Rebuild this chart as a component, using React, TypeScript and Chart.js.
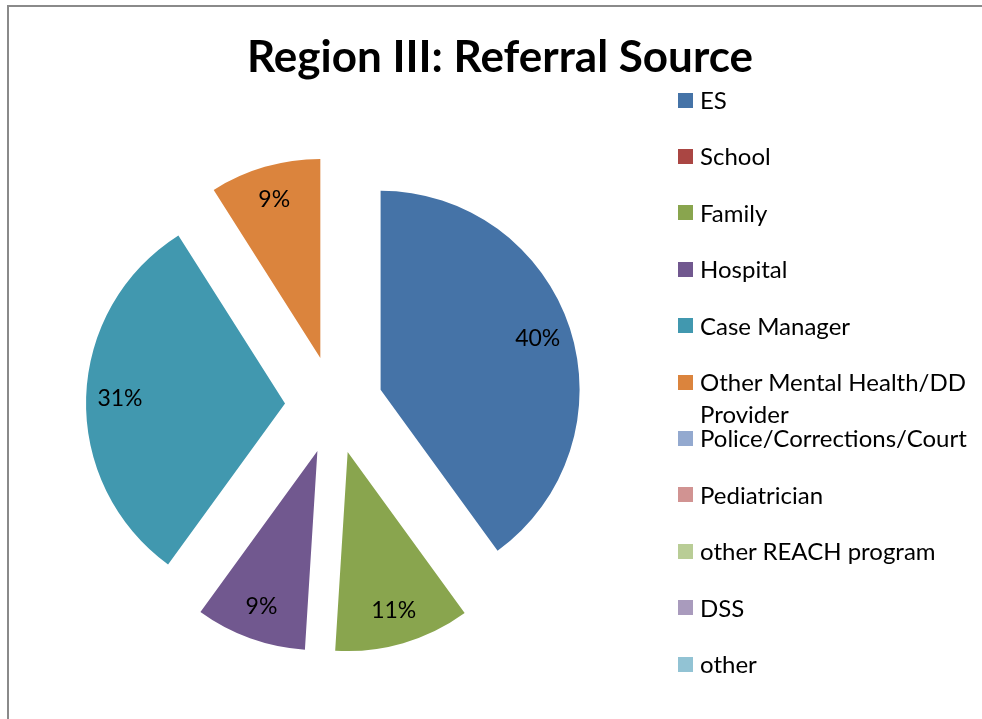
import React, { useEffect, useRef } from "react";
import { Chart, registerables } from "chart.js";

Chart.register(...registerables);

const titleText = "Region III: Referral Source";
const categories = [
  "ES",
  "School",
  "Family",
  "Hospital",
  "Case Manager",
  "Other Mental Health/DD Provider",
  "Police/Corrections/Court",
  "Pediatrician",
  "other REACH program",
  "DSS",
  "other",
];
const legendLines = [
  ["ES"],
  ["School"],
  ["Family"],
  ["Hospital"],
  ["Case Manager"],
  ["Other Mental Health/DD", "Provider"],
  ["Police/Corrections/Court"],
  ["Pediatrician"],
  ["other REACH program"],
  ["DSS"],
  ["other"],
];
const values = [40, 0, 11, 9, 31, 9, 0, 0, 0, 0, 0];
const colors = [
  "#4573A7",
  "#AA4643",
  "#89A54E",
  "#71588F",
  "#4198AF",
  "#DB843D",
  "#93A9CF",
  "#D19392",
  "#B9CD96",
  "#A99BBD",
  "#92C3D4",
];

const RADIUS = 199;
const EXPLODE = 49; // every slice pulled out from the centre along its bisector
const LABEL_FRAC = 0.83;

// Explode slices: move each arc's centre outward along its bisector
const explodeSlices = {
  id: "explodeSlices",
  afterDatasetsUpdate(chart: any) {
    const meta = chart.getDatasetMeta(0);
    meta.data.forEach((arc: any) => {
      const mid = (arc.startAngle + arc.endAngle) / 2;
      arc.x = arc.x + Math.cos(mid) * EXPLODE;
      arc.y = arc.y + Math.sin(mid) * EXPLODE;
    });
  },
};

const pctLabels = {
  id: "pctLabels",
  afterDatasetsDraw(chart: any) {
    const meta = chart.getDatasetMeta(0);
    const total = values.reduce((a, b) => a + b, 0);
    const ctx = chart.ctx;
    ctx.save();
    ctx.font = "23px Lato";
    ctx.fillStyle = "#000";
    ctx.textAlign = "center";
    ctx.textBaseline = "middle";
    meta.data.forEach((arc: any, i: number) => {
      const v = values[i];
      if (!v) return;
      const mid = (arc.startAngle + arc.endAngle) / 2;
      const r = arc.outerRadius * LABEL_FRAC;
      ctx.fillText(
        Math.round((v / total) * 100) + "%",
        arc.x + Math.cos(mid) * r,
        arc.y + Math.sin(mid) * r
      );
    });
    ctx.restore();
  },
};

export default function App() {
  const ref = useRef<HTMLCanvasElement | null>(null);

  useEffect(() => {
    if (!ref.current) return;
    const chart = new Chart(ref.current, {
      type: "pie",
      data: {
        labels: categories,
        datasets: [
          {
            data: values,
            backgroundColor: colors,
            borderWidth: 0,
            hoverOffset: 0,
            radius: RADIUS,
          } as any,
        ],
      },
      options: {
        animation: false,
        responsive: true,
        maintainAspectRatio: false,
        layout: { padding: { left: 0, right: 314, top: 91, bottom: 0 } },
        plugins: {
          legend: { display: false },
          tooltip: { enabled: false },
          title: { display: false },
        },
      } as any,
      plugins: [explodeSlices, pctLabels],
    });
    return () => chart.destroy();
  }, []);

  return (
    <div
      style={{
        position: "fixed",
        left: 0,
        top: 0,
        width: 982,
        height: 719,
        background: "#fff",
        overflow: "hidden",
      }}
    >
      <canvas ref={ref} style={{ position: "absolute", left: 0, top: 0 }} />
      <div
        style={{
          position: "absolute",
          left: 7,
          top: 5,
          right: 0,
          bottom: 0,
          borderTop: "2px solid #8a8a8a",
          borderLeft: "2px solid #8a8a8a",
          pointerEvents: "none",
        }}
      />
      <div
        style={{
          position: "absolute",
          left: 0,
          width: 1000,
          top: 29,
          textAlign: "center",
          fontFamily: "Lato",
          fontWeight: "bold",
          fontSize: 44,
          lineHeight: "52px",
          color: "#000",
          whiteSpace: "nowrap",
        }}
      >
        {titleText}
      </div>
      {legendLines.map((lines, i) => {
        const yc = 100 + 56.4 * i;
        return (
          <div
            key={categories[i]}
            style={{
              position: "absolute",
              left: 678,
              top: yc - 16,
              fontFamily: "Lato",
              fontSize: 24,
              lineHeight: "32px",
              color: "#000",
              whiteSpace: "nowrap",
            }}
          >
            <div
              style={{
                position: "absolute",
                left: 0,
                top: 8.5,
                width: 15,
                height: 15,
                background: colors[i],
              }}
            />
            <div style={{ marginLeft: 22 }}>
              {lines.map((l, j) => (
                <div key={j}>{l}</div>
              ))}
            </div>
          </div>
        );
      })}
    </div>
  );
}
